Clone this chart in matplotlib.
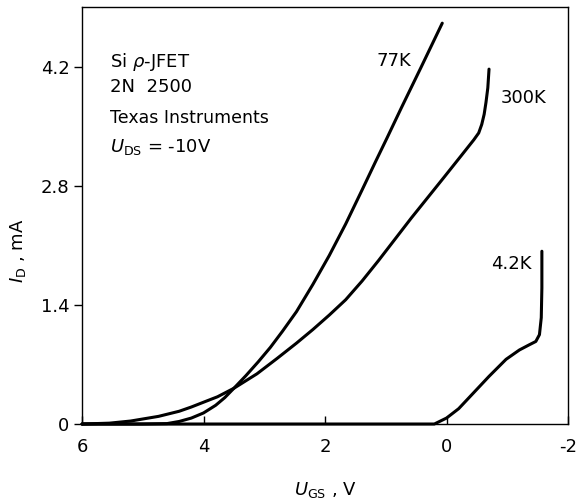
import matplotlib
matplotlib.use("Agg")
import matplotlib.pyplot as plt

plt.rcParams['font.family'] = ['DejaVu Sans']
plt.rcParams['mathtext.fontset'] = 'dejavusans'

# drain current vs gate-source voltage, Si p-JFET 2N2500, U_DS = -10 V
ugs_77k = [6.0, 5.0, 4.6, 4.4, 4.2, 4.0, 3.8, 3.65, 3.5, 3.3, 3.1, 2.9, 2.7, 2.47, 2.2, 1.93, 1.66,
           1.39, 1.17, 0.98, 0.74, 0.42, 0.07]
id_77k = [0.0, 0.0, 0.005, 0.03, 0.07, 0.13, 0.22, 0.31, 0.42, 0.57, 0.73, 0.90, 1.09, 1.32, 1.64, 1.98, 2.35,
          2.75, 3.08, 3.36, 3.72, 4.19, 4.71]

ugs_300k = [6.0, 5.55, 5.2, 4.74, 4.4, 4.2, 3.95, 3.77, 3.5, 3.12, 2.79, 2.47, 2.2, 1.93, 1.66, 1.39, 1.12,
            0.85, 0.58, 0.31, 0.04, -0.25, -0.45, -0.53, -0.58, -0.62, -0.65, -0.68, -0.70]
id_300k = [0.0, 0.01, 0.035, 0.09, 0.15, 0.2, 0.27, 0.32, 0.42, 0.59, 0.77, 0.95, 1.11, 1.28, 1.46, 1.68, 1.92,
           2.17, 2.42, 2.66, 2.90, 3.16, 3.34, 3.42, 3.52, 3.64, 3.78, 3.95, 4.17]

ugs_4k = [6.0, 0.2, 0.0, -0.2, -0.45, -0.7, -0.98, -1.2, -1.36, -1.47, -1.53, -1.56, -1.57, -1.57]
id_4k = [0.0, 0.0, 0.07, 0.18, 0.37, 0.56, 0.76, 0.87, 0.93, 0.97, 1.05, 1.25, 1.6, 2.03]

x_ticks = [6, 4, 2, 0, -2]
x_ticklabels = ['6', '4', '2', '0', '-2']
y_ticks = [0, 1.4, 2.8, 4.2]
y_ticklabels = ['0', '1.4', '2.8', '4.2']

fig = plt.figure(figsize=(5.78, 5.04), dpi=100)
ax = fig.add_axes([0.1419, 0.1587, 0.8408, 0.8274])

for xs, ys in [(ugs_77k, id_77k), (ugs_300k, id_300k), (ugs_4k, id_4k)]:
    ax.plot(xs, ys, color='black', lw=2.2, solid_joinstyle='round', solid_capstyle='round', clip_on=False)

ax.set_xlim(6, -2)
ax.set_ylim(0, 4.9)
ax.set_xticks(x_ticks)
ax.set_xticklabels(x_ticklabels, fontsize=13)
ax.set_yticks(y_ticks)
ax.set_yticklabels(y_ticklabels, fontsize=13)
ax.tick_params(axis='x', direction='in', length=6, width=1, pad=10)
ax.tick_params(axis='y', direction='out', length=6, width=1, pad=3)
for s in ax.spines.values():
    s.set_linewidth(1.0)

ax.set_xlabel(r'$U_{\mathrm{GS}}$ , V', fontsize=13)
ax.xaxis.set_label_coords(0.5, -0.135)
ax.set_ylabel(r'$I_{\mathrm{D}}$ , mA', fontsize=13)
ax.yaxis.set_label_coords(-0.111, 0.415)

# curve labels
ax.text(0.86, 4.27, '77K', fontsize=13, ha='center', va='center')
ax.text(-1.27, 3.83, '300K', fontsize=13, ha='center', va='center')
ax.text(-1.06, 1.88, '4.2K', fontsize=13, ha='center', va='center')

# device info
ax.text(5.54, 4.25, r'Si $\rho$-JFET', fontsize=13, ha='left', va='center')
ax.text(5.54, 3.96, '2N  2500', fontsize=13, ha='left', va='center')
ax.text(5.54, 3.59, 'Texas Instruments', fontsize=12.5, ha='left', va='center')
ax.text(5.54, 3.25, r'$U_{\mathrm{DS}}$ = -10V', fontsize=13, ha='left', va='center')

fig.savefig('out.png', dpi=100)
